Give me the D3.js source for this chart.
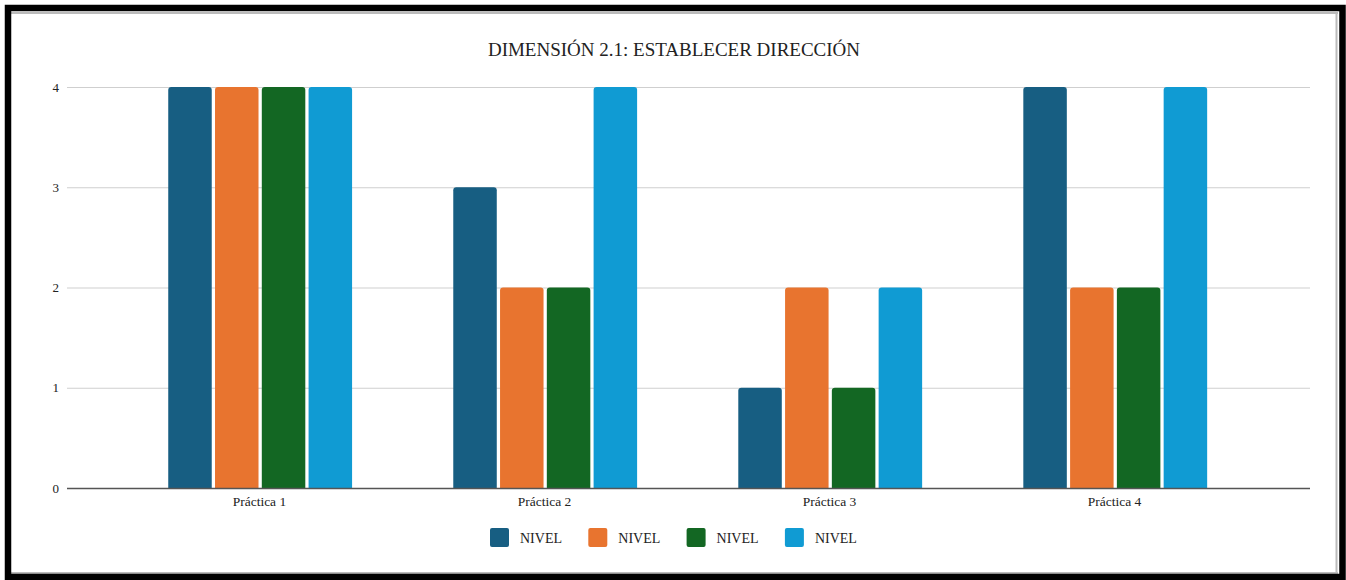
<!DOCTYPE html>
<html><head><meta charset="utf-8">
<script src="https://cdn.jsdelivr.net/npm/d3@7/dist/d3.min.js"></script>
<style>html,body{margin:0;padding:0;background:#fff;}svg{display:block;} svg text{font-family:"Liberation Serif", "DejaVu Serif", serif;}</style>
</head><body>
<svg id="c" width="1346" height="580"></svg>
<script>
const categories = ["Práctica 1","Práctica 2","Práctica 3","Práctica 4"];
const seriesNames = ["NIVEL","NIVEL","NIVEL","NIVEL"];
const serie1 = [4,3,1,4];
const serie2 = [4,2,2,2];
const serie3 = [4,2,1,2];
const serie4 = [4,4,2,4];
const yTicks = [0,1,2,3,4];
const colors = ["#175e82","#e8742f","#136723","#109bd3"];
const series = [serie1,serie2,serie3,serie4];

(function(){
const svg = d3.select("#c");

// frame
svg.append("rect").attr("x",0).attr("y",0).attr("width",1346).attr("height",580).attr("fill","#fff");
svg.append("line").attr("x1",11).attr("x2",1338).attr("y1",13).attr("y2",13).attr("stroke","#bbb").attr("stroke-width",2);
svg.append("line").attr("x1",1336.5).attr("x2",1336.5).attr("y1",12).attr("y2",574).attr("stroke","#bbb").attr("stroke-width",2);
svg.append("line").attr("x1",11).attr("x2",1338).attr("y1",573).attr("y2",573).attr("stroke","#bbb").attr("stroke-width",2);
svg.append("rect").attr("x",8).attr("y",8).attr("width",1334.5).attr("height",569)
  .attr("fill","none").attr("stroke","#000").attr("stroke-width",6.5);

const pLeft = 67, pRight = 1310, pTop = 87, pBottom = 488;
const y = d3.scaleLinear().domain([0,4]).range([pBottom, pTop]);
const x0 = d3.scaleBand().domain(categories).range([pLeft,pRight]).paddingInner(0.355).paddingOuter(0.358);
const x1 = d3.scaleBand().domain(d3.range(series.length)).range([0,x0.bandwidth()]).paddingInner(0.07);

// title
svg.append("text").attr("x",674).attr("y",56).attr("text-anchor","middle")
  .attr("font-size",19).attr("fill","#222")
  .text("DIMENSIÓN 2.1: ESTABLECER DIRECCIÓN");

// grid
const g = svg.append("g");
g.selectAll("line.grid").data(yTicks.filter(d=>d>0)).join("line")
  .attr("x1",pLeft).attr("x2",pRight).attr("y1",d=>y(d)+0.5).attr("y2",d=>y(d)+0.5)
  .attr("stroke","#cfcfcf").attr("stroke-width",1);

// y labels
g.selectAll("text.yl").data(yTicks).join("text")
  .attr("x",59).attr("y",d=>y(d)+4.5).attr("text-anchor","end")
  .attr("font-size",13).attr("fill","#222").text(d=>d);

// bars
const grp = svg.append("g").selectAll("g").data(categories).join("g")
  .attr("transform",c=>`translate(${x0(c)-0.8},0)`);
grp.selectAll("path").data((c,ci)=>series.map((s,si)=>({si,v:s[ci]}))).join("path")
  .attr("fill",d=>colors[d.si])
  .attr("d",d=>{
    const bx=x1(d.si), bw=x1.bandwidth(), by=y(d.v), r=3;
    return `M${bx},${pBottom}V${by+r}Q${bx},${by} ${bx+r},${by}H${bx+bw-r}Q${bx+bw},${by} ${bx+bw},${by+r}V${pBottom}Z`;
  });

// baseline
svg.append("line").attr("x1",pLeft).attr("x2",pRight).attr("y1",pBottom+0.5).attr("y2",pBottom+0.5)
  .attr("stroke","#555").attr("stroke-width",1.3);

// x labels
svg.selectAll("text.xl").data(categories).join("text")
  .attr("x",c=>x0(c)+x0.bandwidth()/2-1.5).attr("y",506).attr("text-anchor","middle")
  .attr("font-size",13.5).attr("fill","#222").text(c=>c);

// legend
const lg = svg.append("g").selectAll("g").data(seriesNames).join("g")
  .attr("transform",(d,i)=>`translate(${490+i*98.3},528)`);
lg.append("rect").attr("width",19).attr("height",19).attr("rx",2).attr("fill",(d,i)=>colors[i]);
lg.append("text").attr("x",30).attr("y",14.5).attr("font-size",14).attr("fill","#222").text(d=>d);
})();
</script>
</body></html>
